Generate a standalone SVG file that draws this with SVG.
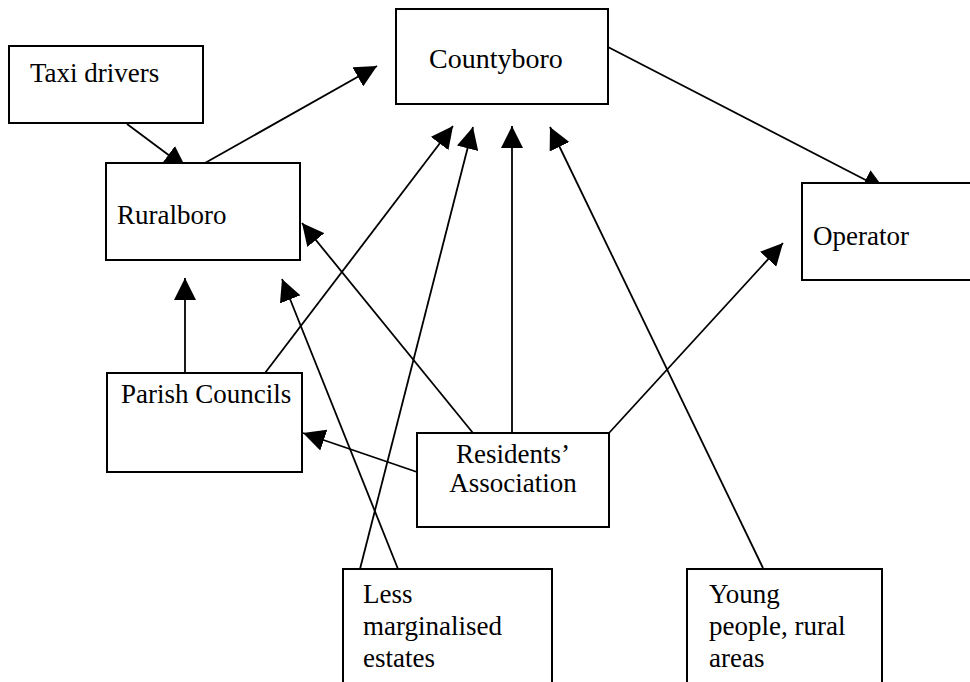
<svg xmlns="http://www.w3.org/2000/svg" width="970" height="682" viewBox="0 0 970 682">
<style>
.box{fill:#fff;stroke:#000;stroke-width:2}
.lbl{font-family:"Liberation Serif","Times New Roman",serif;font-size:27px;fill:#000}
.con{stroke:#000;stroke-width:1.8;fill:none;marker-end:url(#ah)}
</style>
<defs>
<marker id="ah" markerUnits="userSpaceOnUse" markerWidth="22" markerHeight="22" refX="20" refY="10" orient="auto" viewBox="0 0 20 20">
<path d="M0,0 L20,10 L0,20 z" fill="#000"/>
</marker>
</defs>
<rect width="970" height="682" fill="#fff"/>
<g id="connectors">
<line class="con" x1="127" y1="124" x2="186" y2="168"/>
<line class="con" x1="205" y1="163" x2="377" y2="66"/>
<line class="con" x1="608" y1="47" x2="885" y2="190"/>
<line class="con" x1="185" y1="373" x2="185" y2="278"/>
<line class="con" x1="265" y1="373" x2="453" y2="126"/>
<line class="con" x1="473" y1="433" x2="302" y2="223"/>
<line class="con" x1="417" y1="472" x2="303" y2="433"/>
<line class="con" x1="512" y1="433" x2="512" y2="126"/>
<line class="con" x1="609" y1="433" x2="783" y2="243"/>
<line class="con" x1="360" y1="569" x2="473" y2="127"/>
<line class="con" x1="398" y1="569" x2="282" y2="279"/>
<line class="con" x1="763" y1="568" x2="550" y2="127"/>
</g>
<g id="taxi"><rect class="box" x="9" y="46" width="194" height="77"/><text class="lbl" x="30" y="82">Taxi drivers</text></g>
<g id="countyboro"><rect class="box" x="396" y="9" width="212" height="95"/><text class="lbl" x="429" y="68" style="font-size:28px">Countyboro</text></g>
<g id="ruralboro"><rect class="box" x="106" y="163" width="194" height="97"/><text class="lbl" x="117" y="224">Ruralboro</text></g>
<g id="operator"><rect class="box" x="802" y="183" width="180" height="97"/><text class="lbl" x="813" y="245">Operator</text></g>
<g id="parish"><rect class="box" x="107" y="373" width="195" height="99"/><text class="lbl" x="121" y="403">Parish Councils</text></g>
<g id="residents"><rect class="box" x="417" y="433" width="192" height="94"/><text class="lbl" x="513" y="463" text-anchor="middle">Residents’</text><text class="lbl" x="513" y="492" text-anchor="middle">Association</text></g>
<g id="less"><rect class="box" x="343" y="569" width="209" height="130"/><text class="lbl" x="363" y="603">Less</text><text class="lbl" x="363" y="635">marginalised</text><text class="lbl" x="363" y="667">estates</text></g>
<g id="young"><rect class="box" x="687" y="569" width="195" height="130"/><text class="lbl" x="709" y="603">Young</text><text class="lbl" x="709" y="635">people, rural</text><text class="lbl" x="709" y="667">areas</text></g>
</svg>
